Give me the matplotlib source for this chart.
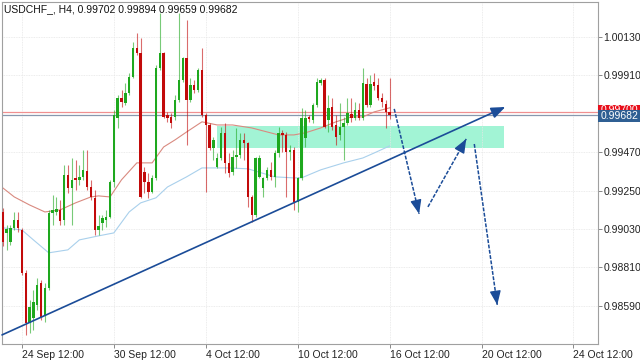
import numpy as np
import matplotlib
matplotlib.use("Agg")
import matplotlib.pyplot as plt
from matplotlib.patches import Rectangle
import matplotlib.transforms as mtransforms

# USDCHF H4 candles (oldest first)
opens = [
    0.99128, 0.99008, 0.98957, 0.99037, 0.99083, 0.99025, 0.98779, 0.98493, 0.98521, 0.98596,
    0.98722, 0.98539, 0.98694, 0.99123, 0.99128, 0.99140, 0.99083, 0.99340, 0.99266, 0.99323,
    0.99312, 0.99329, 0.99363, 0.99271, 0.99209, 0.99025, 0.99065, 0.99083, 0.99100, 0.99300,
    0.99666, 0.99781, 0.99752, 0.99810, 0.99901, 1.00067, 1.00039, 0.99357, 0.99300, 0.99243,
    0.99323, 0.99953, 1.00039, 0.99684, 0.99672, 0.99672, 0.99770, 0.99884, 1.00010, 0.99770,
    0.99855, 0.99827, 0.99941, 0.99684, 0.99626, 0.99495, 0.99386, 0.99437, 0.99581, 0.99409,
    0.99357, 0.99443, 0.99455, 0.99541, 0.99523, 0.99214, 0.99111, 0.99329, 0.99266, 0.99323,
    0.99369, 0.99329, 0.99466, 0.99581, 0.99569, 0.99472, 0.99483, 0.99186, 0.99323, 0.99552,
    0.99672, 0.99655, 0.99741, 0.99867, 0.99884, 0.99655, 0.99729, 0.99626, 0.99569, 0.99615,
    0.99638, 0.99689, 0.99666, 0.99712, 0.99666, 0.99861, 0.99741, 0.99873, 0.99855, 0.99781,
    0.99747, 0.99702,
]
highs = [
    0.99151, 0.99054, 0.99054, 0.99128, 0.99128, 0.99037, 0.98796, 0.98625, 0.98682, 0.98751,
    0.98739, 0.98722, 0.99140, 0.99226, 0.99214, 0.99197, 0.99397, 0.99397, 0.99437, 0.99426,
    0.99397, 0.99483, 0.99483, 0.99312, 0.99254, 0.99111, 0.99111, 0.99140, 0.99312, 0.99712,
    0.99798, 0.99827, 0.99867, 0.99924, 1.00102, 1.00153, 1.00124, 0.99386, 0.99352, 0.99340,
    0.99970, 1.00268, 1.00044, 0.99701, 0.99695, 0.99798, 1.00268, 1.00016, 1.00227, 0.99895,
    0.99884, 0.99953, 1.00067, 0.99695, 0.99638, 0.99558, 0.99466, 0.99615, 0.99638, 0.99466,
    0.99483, 0.99609, 0.99581, 0.99581, 0.99529, 0.99226, 0.99443, 0.99455, 0.99329, 0.99386,
    0.99415, 0.99483, 0.99615, 0.99598, 0.99586, 0.99512, 0.99500, 0.99329, 0.99724, 0.99712,
    0.99684, 0.99752, 0.99895, 0.99895, 0.99895, 0.99798, 0.99781, 0.99684, 0.99752, 0.99672,
    0.99781, 0.99781, 0.99758, 0.99752, 0.99953, 0.99895, 0.99913, 0.99924, 0.99895, 0.99810,
    0.99770, 0.99894,
]
lows = [
    0.98934, 0.98911, 0.98939, 0.99025, 0.99014, 0.98768, 0.98424, 0.98436, 0.98453, 0.98567,
    0.98510, 0.98499, 0.98682, 0.99054, 0.99111, 0.99054, 0.99054, 0.99237, 0.99054, 0.99254,
    0.99283, 0.99312, 0.99254, 0.99197, 0.98997, 0.98997, 0.99025, 0.99042, 0.99094, 0.99271,
    0.99609, 0.99729, 0.99741, 0.99798, 0.99895, 1.00027, 0.99209, 0.99237, 0.99209, 0.99237,
    0.99312, 0.99941, 0.99666, 0.99644, 0.99609, 0.99655, 0.99758, 0.99873, 0.99512, 0.99758,
    0.99810, 0.99815, 0.99672, 0.99243, 0.99483, 0.99426, 0.99380, 0.99426, 0.99352, 0.99329,
    0.99340, 0.99380, 0.99437, 0.99426, 0.99157, 0.99071, 0.99100, 0.99323, 0.99214, 0.99312,
    0.99312, 0.99271, 0.99443, 0.99472, 0.99214, 0.99426, 0.99140, 0.99128, 0.99312, 0.99500,
    0.99644, 0.99638, 0.99729, 0.99855, 0.99609, 0.99586, 0.99598, 0.99512, 0.99541, 0.99426,
    0.99626, 0.99644, 0.99655, 0.99655, 0.99655, 0.99729, 0.99729, 0.99827, 0.99770, 0.99729,
    0.99609, 0.99659,
]
closes = [
    0.98957, 0.99031, 0.99037, 0.99083, 0.99037, 0.98779, 0.98493, 0.98584, 0.98613, 0.98711,
    0.98527, 0.98694, 0.99123, 0.99140, 0.99145, 0.99077, 0.99340, 0.99266, 0.99312, 0.99312,
    0.99329, 0.99369, 0.99271, 0.99214, 0.99025, 0.99048, 0.99094, 0.99100, 0.99300, 0.99684,
    0.99781, 0.99758, 0.99810, 0.99901, 1.00067, 1.00039, 0.99214, 0.99300, 0.99243, 0.99323,
    0.99953, 1.00039, 0.99672, 0.99666, 0.99638, 0.99770, 0.99884, 1.00010, 0.99770, 0.99855,
    0.99827, 0.99941, 0.99684, 0.99626, 0.99495, 0.99541, 0.99437, 0.99581, 0.99409, 0.99352,
    0.99443, 0.99455, 0.99541, 0.99523, 0.99214, 0.99111, 0.99437, 0.99437, 0.99323, 0.99369,
    0.99329, 0.99466, 0.99581, 0.99569, 0.99472, 0.99483, 0.99186, 0.99323, 0.99666, 0.99666,
    0.99661, 0.99741, 0.99873, 0.99884, 0.99615, 0.99724, 0.99615, 0.99558, 0.99615, 0.99638,
    0.99695, 0.99666, 0.99712, 0.99666, 0.99867, 0.99741, 0.99861, 0.99850, 0.99781, 0.99758,
    0.99701, 0.99682,
]

# moving averages, sampled at bar indices
ma_fast_idx = [0, 3, 7, 11, 15, 19, 23, 25, 28, 31, 35, 39, 42, 45, 48, 52, 56, 60, 65, 72,
               76, 79, 83, 87, 91, 94, 97, 101]
ma_fast_val = [0.99266, 0.99214, 0.99168, 0.99128, 0.99140, 0.99180, 0.99214, 0.99220, 0.99214,
               0.99312, 0.99409, 0.99409, 0.99500, 0.99541, 0.99586, 0.99644, 0.99626, 0.99626,
               0.99609, 0.99569, 0.99569, 0.99581, 0.99609, 0.99644, 0.99672, 0.99672, 0.99701,
               0.99724]
ma_slow_idx = [0, 5, 8, 12, 17, 20, 25, 29, 33, 36, 40, 43, 48, 52, 59, 64, 71, 76, 78, 83,
               89, 94, 97, 101]
ma_slow_val = [0.99037, 0.99025, 0.98968, 0.98894, 0.98911, 0.98968, 0.98991, 0.99008, 0.99128,
               0.99180, 0.99209, 0.99271, 0.99329, 0.99380, 0.99380, 0.99375, 0.99329, 0.99323,
               0.99323, 0.99369, 0.99409, 0.99437, 0.99466, 0.99506]

# drawn objects (bar index, price)
zone_x = (55.95, 130.9)
zone_y = (0.99495, 0.99621)
trend_line = [(-0.2, 0.98424), (131.2, 0.99729)]
arrows = [
    [(102.2, 0.99718), (108.7, 0.99117)],
    [(111.0, 0.99157), (121.0, 0.99546)],
    [(123.1, 0.99517), (129.1, 0.98596)],
]

bid_price = 0.99682
ask_price = 0.99700
y_ticks = [0.98590, 0.98810, 0.99030, 0.99250, 0.99470, 0.99910, 1.00130]
x_tick_labels = ['24 Sep 12:00', '30 Sep 12:00', '4 Oct 12:00', '10 Oct 12:00',
                 '16 Oct 12:00', '20 Oct 12:00', '24 Oct 12:00']
title = 'USDCHF_, H4, 0.99702 0.99894 0.99659 0.99682'

plt.rcParams['font.family'] = ['Liberation Sans', 'DejaVu Sans']

fig = plt.figure(figsize=(6.4, 3.6), dpi=100, facecolor='white')
ax = fig.add_axes([2 / 640, 16 / 360, 596 / 640, 342 / 360])
ax.set_xlim(-0.2, 155.4)
ax.set_ylim(0.98372, 1.00330)

# grid
ax.set_axisbelow(True)
ax.grid(True, color='#e6e6e6', lw=0.6, ls=(0, (1, 1)))

# zone
ax.add_patch(Rectangle((zone_x[0], zone_y[0]), zone_x[1] - zone_x[0], zone_y[1] - zone_y[0],
                       facecolor='#a2f4d5', edgecolor='none', zorder=0.5))

# price lines
ax.axhline(ask_price, color='#f09090', lw=0.9, zorder=1)
ax.axhline(bid_price, color='#8898ae', lw=0.9, zorder=1)

# moving averages
ax.plot(ma_fast_idx, ma_fast_val, color='#d98a80', lw=0.8, zorder=2)
ax.plot(ma_slow_idx, ma_slow_val, color='#a9d0ec', lw=0.8, zorder=2)

# candles
o = np.array(opens)
h = np.array(highs)
l = np.array(lows)
c = np.array(closes)
idx = np.arange(len(o))
up = c >= o
bull, bear = '#1ea81e', '#c20a0a'
colors = np.where(up, bull, bear)
ax.vlines(idx, l, h, colors=colors, lw=0.8, alpha=0.6, zorder=3)
body_lo = np.minimum(o, c)
body_h = np.maximum(np.abs(c - o), 0.00004)
ax.bar(idx, body_h, bottom=body_lo, width=0.62, color=colors, lw=0, zorder=4)

# trend line and arrows
blue = '#1b4c98'
ax.annotate('', xy=trend_line[1], xytext=trend_line[0],
            arrowprops=dict(arrowstyle='-|>,head_length=0.7,head_width=0.28', color=blue,
                            lw=1.2, shrinkA=0, shrinkB=0, mutation_scale=12), zorder=5)
for (x0, y0), (x1, y1) in arrows:
    ax.plot([x0, x1], [y0, y1], color=blue, lw=1.1, ls=(0, (2.5, 1)), zorder=5)
    ax.annotate('', xy=(x1, y1), xytext=(x1 - (x1 - x0) * 0.05, y1 - (y1 - y0) * 0.05),
                arrowprops=dict(arrowstyle='-|>,head_length=0.7,head_width=0.28', color=blue,
                                lw=1.0, shrinkA=0, shrinkB=0, mutation_scale=12), zorder=6)

# axes
for s in ax.spines.values():
    s.set_color('#a0a0a0')
    s.set_linewidth(0.8)
ax.yaxis.tick_right()
ax.set_yticks(y_ticks)
ax.set_yticklabels(['%.5f' % v for v in y_ticks])
ax.set_xticks([5 + 24 * k for k in range(len(x_tick_labels))])
ax.set_xticklabels(x_tick_labels, ha='left')
ax.tick_params(axis='both', labelsize=7.5, labelcolor='#222222', color='#888888',
               length=3, width=0.7, pad=1)
ax.tick_params(axis='x', pad=1.5)

# price tags on the right axis (drawn from pixel rows of the reference)
trans = mtransforms.blended_transform_factory(ax.transAxes, ax.transData)
tag_w = 42 / 596
tags = [(ask_price, 0.99678, 0.99741, '#e8101c', 7),
        (bid_price, 0.99644, 0.99709, '#2f5f93', 8)]
for price, lo, hi, col, z in tags:
    ax.add_patch(Rectangle((1.0, lo), tag_w, hi - lo, transform=trans,
                           facecolor=col, edgecolor='none', clip_on=False, zorder=z))
    ax.text(1.0 + 3 / 596, (lo + hi) / 2, '%.5f' % price, transform=trans, color='white',
            fontsize=7.5, va='center', ha='left', clip_on=False, zorder=z)

fig.text(4 / 640, 1 - 9 / 360, title, fontsize=7.5, va='center', ha='left', color='#111111')

fig.savefig('out.png', dpi=100, facecolor='white')
